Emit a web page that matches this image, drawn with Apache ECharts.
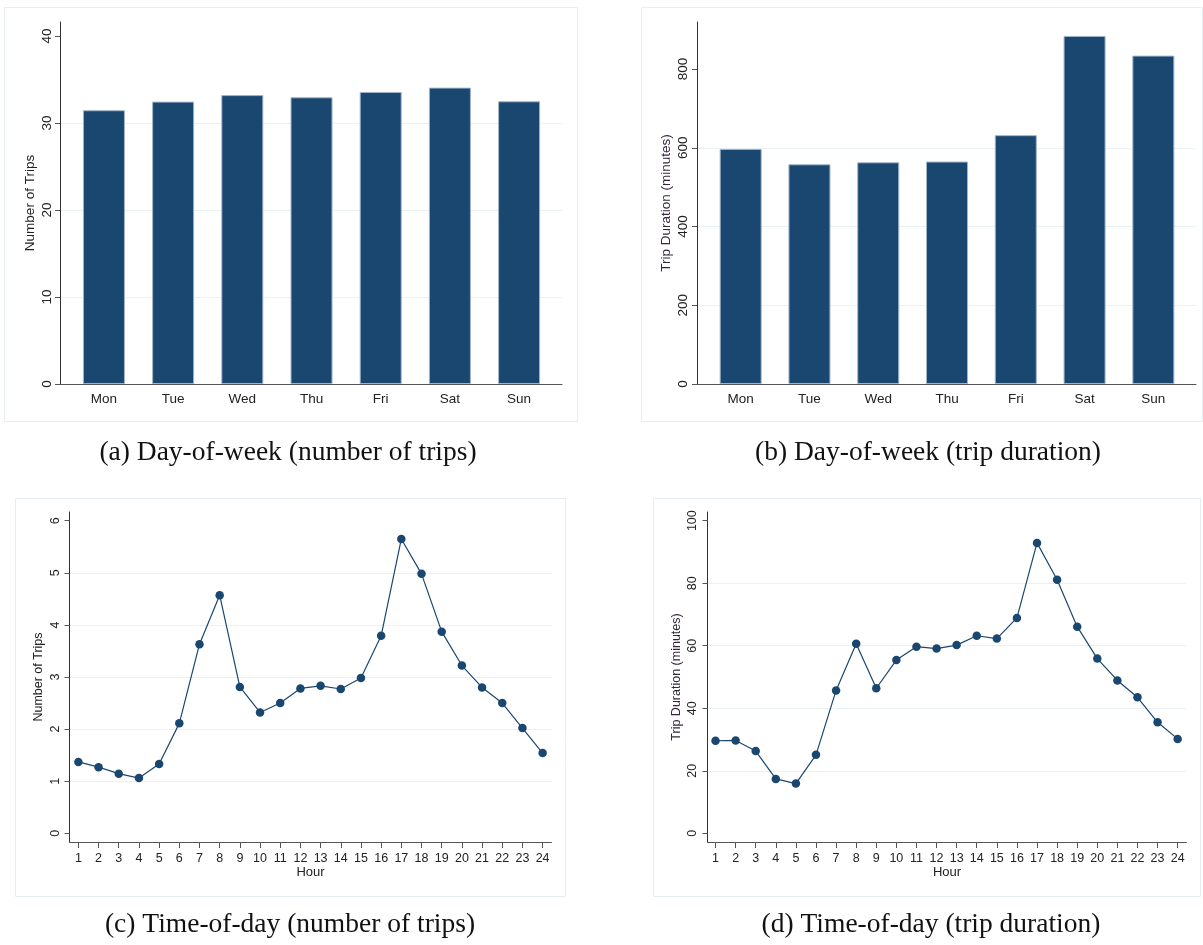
<!DOCTYPE html>
<html>
<head>
<meta charset="utf-8">
<script src="https://cdn.jsdelivr.net/npm/echarts@6/dist/echarts.min.js"></script>
<style>html,body{margin:0;padding:0;background:#fff}#c{width:1203px;height:945px}</style>
</head>
<body>
<div id="c"></div>
<script>
// ---- data ----
var days = ['Mon', 'Tue', 'Wed', 'Thu', 'Fri', 'Sat', 'Sun'];
var dowTrips = [31.46, 32.45, 33.2, 32.95, 33.56, 34.06, 32.49];
var dowDuration = [597, 558, 563, 565, 632, 884, 834];
var hours = [1,2,3,4,5,6,7,8,9,10,11,12,13,14,15,16,17,18,19,20,21,22,23,24];
var hourTrips = [1.37, 1.27, 1.145, 1.06, 1.33, 2.11, 3.63, 4.57, 2.81, 2.32, 2.50, 2.78, 2.83, 2.77, 2.98, 3.79, 5.65, 4.98, 3.87, 3.22, 2.80, 2.50, 2.02, 1.54];
var hourDuration = [29.6, 29.7, 26.3, 17.4, 15.9, 25.1, 45.7, 60.6, 46.4, 55.4, 59.7, 59.1, 60.2, 63.2, 62.3, 68.9, 92.9, 81.1, 66.1, 55.9, 48.9, 43.5, 35.5, 30.2];
var tripTicks = [0, 10, 20, 30, 40];
var durTicks = [0, 200, 400, 600, 800];
var hourTripTicks = [0, 1, 2, 3, 4, 5, 6];
var hourDurTicks = [0, 20, 40, 60, 80, 100];
var captions = ['(a) Day-of-week (number of trips)', '(b) Day-of-week (trip duration)', '(c) Time-of-day (number of trips)', '(d) Time-of-day (trip duration)'];
var titles = {trips: 'Number of Trips', dur: 'Trip Duration (minutes)', hour: 'Hour'};

var navy = '#1a476f';
var grid = '#eaf1f3';
var sans = 'Liberation Sans';
var dayIdx = days.map(function (d, i) { return i; });

function yAxis(gi, min, max, ticks, name, fs, margin, nameGap, nameColor) {
  return {
    type: 'value', gridIndex: gi, min: min, max: max,
    name: name, nameLocation: 'middle', nameGap: nameGap,
    nameTextStyle: {fontFamily: sans, fontSize: fs, color: nameColor},
    axisLine: {show: true, onZero: false, lineStyle: {color: '#333', width: 1}},
    axisTick: {show: true, length: 5, customValues: ticks, lineStyle: {color: '#555'}},
    axisLabel: {customValues: ticks, rotate: 90, margin: margin, fontFamily: sans, fontSize: fs, color: '#222'},
    splitLine: {show: true, showMinLine: false, showMaxLine: false, lineStyle: {color: grid, width: 1}}
  };
}
function dayAxis(gi) {
  return {
    type: 'value', gridIndex: gi, min: -0.635, max: 6.62,
    axisLine: {show: true, onZero: false, lineStyle: {color: '#555', width: 1}},
    axisTick: {show: false},
    axisLabel: {customValues: dayIdx, margin: 8, fontFamily: sans, fontSize: 13.5, color: '#222',
      formatter: function (v) { return days[Math.round(v)]; }},
    splitLine: {show: false}
  };
}
function hourAxis(gi, min, max) {
  return {
    type: 'value', gridIndex: gi, min: min, max: max,
    name: titles.hour, nameLocation: 'middle', nameGap: 24,
    nameTextStyle: {fontFamily: sans, fontSize: 13, color: '#222'},
    axisLine: {show: true, onZero: false, lineStyle: {color: '#555', width: 1}},
    axisTick: {show: true, length: 6, customValues: hours, lineStyle: {color: '#555'}},
    axisLabel: {customValues: hours, margin: 10, fontFamily: sans, fontSize: 12.5, color: '#222'},
    splitLine: {show: false}
  };
}

var frames = [
  [4, 7, 573, 414], [641, 7, 561, 414], [15, 498, 550, 398], [653, 498, 547, 398]
];
var capPos = [[288, 453], [928, 453], [290, 925], [931, 925]];
var graphics = [];
frames.forEach(function (f) {
  graphics.push({type: 'rect', silent: true, z: -1, shape: {x: f[0] + 0.5, y: f[1] + 0.5, width: f[2], height: f[3]},
    style: {fill: 'none', stroke: '#e7eef1', lineWidth: 1}});
});
captions.forEach(function (t, i) {
  graphics.push({type: 'text', silent: true, x: capPos[i][0], y: capPos[i][1],
    style: {text: t, fontFamily: 'Liberation Serif', fontSize: 27.5, fill: '#111', align: 'center', verticalAlign: 'middle'}});
});

var option = {
  animation: false,
  backgroundColor: '#fff',
  grid: [
    {left: 60, top: 22, width: 502, height: 362},
    {left: 697, top: 22, width: 499, height: 362},
    {left: 69.5, top: 512, width: 482, height: 330},
    {left: 707.5, top: 512, width: 479, height: 330}
  ],
  xAxis: [dayAxis(0), dayAxis(1), hourAxis(2, 0.56, 24.44), hourAxis(3, 0.6, 24.44)],
  yAxis: [
    yAxis(0, 0, 41.6, tripTicks, titles.trips, 13.5, 6, 23, '#222'),
    yAxis(1, 0, 919.4, durTicks, titles.dur, 13.5, 7, 24, '#33283a'),
    yAxis(2, -0.167, 6.167, hourTripTicks, titles.trips, 12.5, 7, 24, '#222'),
    yAxis(3, -2.78, 102.78, hourDurTicks, titles.dur, 12.5, 8, 24, '#33283a')
  ],
  series: [
    {type: 'bar', xAxisIndex: 0, yAxisIndex: 0, barWidth: 42,
      data: dowTrips.map(function (v, i) { return [i, v]; }),
      itemStyle: {color: navy, borderColor: '#9fb4c9', borderWidth: 1}},
    {type: 'bar', xAxisIndex: 1, yAxisIndex: 1, barWidth: 42,
      data: dowDuration.map(function (v, i) { return [i, v]; }),
      itemStyle: {color: navy, borderColor: '#9fb4c9', borderWidth: 1}},
    {type: 'line', xAxisIndex: 2, yAxisIndex: 2, symbol: 'circle', symbolSize: 8.5,
      data: hours.map(function (h, i) { return [h, hourTrips[i]]; }),
      lineStyle: {color: navy, width: 1.2}, itemStyle: {color: navy}},
    {type: 'line', xAxisIndex: 3, yAxisIndex: 3, symbol: 'circle', symbolSize: 8.5,
      data: hours.map(function (h, i) { return [h, hourDuration[i]]; }),
      lineStyle: {color: navy, width: 1.2}, itemStyle: {color: navy}}
  ],
  graphic: graphics
};
var chart = echarts.init(document.getElementById('c'), null, {renderer: 'canvas', width: 1203, height: 945});
chart.setOption(option);
</script>
</body>
</html>
